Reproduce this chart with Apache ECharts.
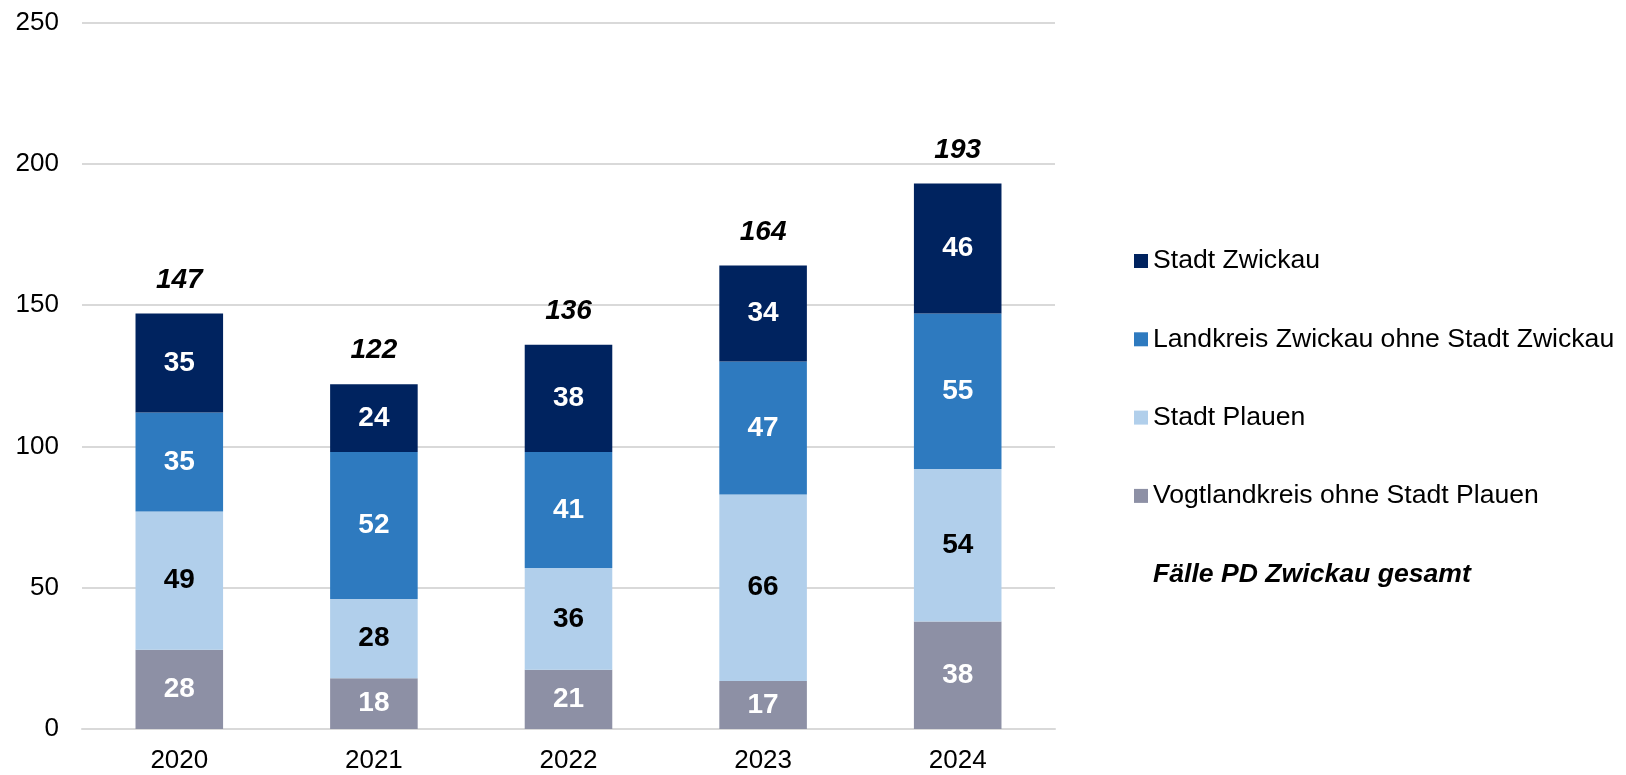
<!DOCTYPE html>
<html>
<head>
<meta charset="utf-8">
<script src="https://cdn.jsdelivr.net/npm/echarts@6/dist/echarts.min.js"></script>
<style>
  html, body { margin: 0; padding: 0; background: #fff; }
  #chart { width: 1626px; height: 775px; }
</style>
</head>
<body>
<div id="chart"></div>
<script>
// Daten
const years = ["2020", "2021", "2022", "2023", "2024"];
const vogtland = [28, 18, 21, 17, 38];
const plauen = [49, 28, 36, 66, 54];
const landkreisZwickau = [35, 52, 41, 47, 55];
const stadtZwickau = [35, 24, 38, 34, 46];
const gesamt = [147, 122, 136, 164, 193];

const font = "Liberation Sans, Arial, sans-serif";

function barSeries(name, data, color, labelColor) {
  return {
    name: name,
    type: "bar",
    stack: "total",
    data: data,
    barWidth: "45%",
    itemStyle: { color: color },
    label: {
      show: true,
      position: "inside",
      color: labelColor,
      fontFamily: font,
      fontWeight: "bold",
      fontSize: 28
    }
  };
}

const chart = echarts.init(document.getElementById("chart"));
chart.setOption({
  animation: false,
  grid: { left: 82, right: 571, top: 22.5, bottom: 46 },
  legend: {
    orient: "vertical",
    left: 1129,
    top: 241,
    itemWidth: 14,
    itemHeight: 14,
    itemGap: 48.3,
    textStyle: { fontFamily: font, fontSize: 26.6, color: "#000", lineHeight: 30 },
    data: [
      { name: "Stadt Zwickau", icon: "rect" },
      { name: "Landkreis Zwickau ohne Stadt Zwickau", icon: "rect" },
      { name: "Stadt Plauen", icon: "rect" },
      { name: "Vogtlandkreis ohne Stadt Plauen", icon: "rect" },
      {
        name: "Fälle PD Zwickau gesamt",
        icon: "rect",
        itemStyle: { color: "rgba(0,0,0,0)", borderWidth: 0 },
        textStyle: { fontStyle: "italic", fontWeight: "bold" }
      }
    ],
    selectedMode: false
  },
  xAxis: {
    type: "category",
    data: years,
    axisLine: { lineStyle: { color: "#d9d9d9", width: 2 } },
    axisTick: { show: false },
    axisLabel: { color: "#000", fontFamily: font, fontSize: 26, margin: 19 }
  },
  yAxis: {
    type: "value",
    min: 0,
    max: 250,
    interval: 50,
    axisLine: { show: false },
    axisTick: { show: false },
    splitLine: { lineStyle: { color: "#d9d9d9", width: 2 } },
    axisLabel: { color: "#000", fontFamily: font, fontSize: 26, margin: 23 }
  },
  series: [
    barSeries("Vogtlandkreis ohne Stadt Plauen", vogtland, "#8d90a5", "#fff"),
    barSeries("Stadt Plauen", plauen, "#b1cfeb", "#000"),
    barSeries("Landkreis Zwickau ohne Stadt Zwickau", landkreisZwickau, "#2e7abf", "#fff"),
    barSeries("Stadt Zwickau", stadtZwickau, "#00235f", "#fff"),
    {
      name: "Fälle PD Zwickau gesamt",
      type: "scatter",
      data: gesamt,
      symbolSize: 1,
      itemStyle: { color: "rgba(0,0,0,0)", opacity: 1 },
      label: {
        show: true,
        position: "top",
        distance: 19,
        color: "#000",
        opacity: 1,
        fontFamily: font,
        fontStyle: "italic",
        fontWeight: "bold",
        fontSize: 28
      }
    }
  ]
});
</script>
</body>
</html>
